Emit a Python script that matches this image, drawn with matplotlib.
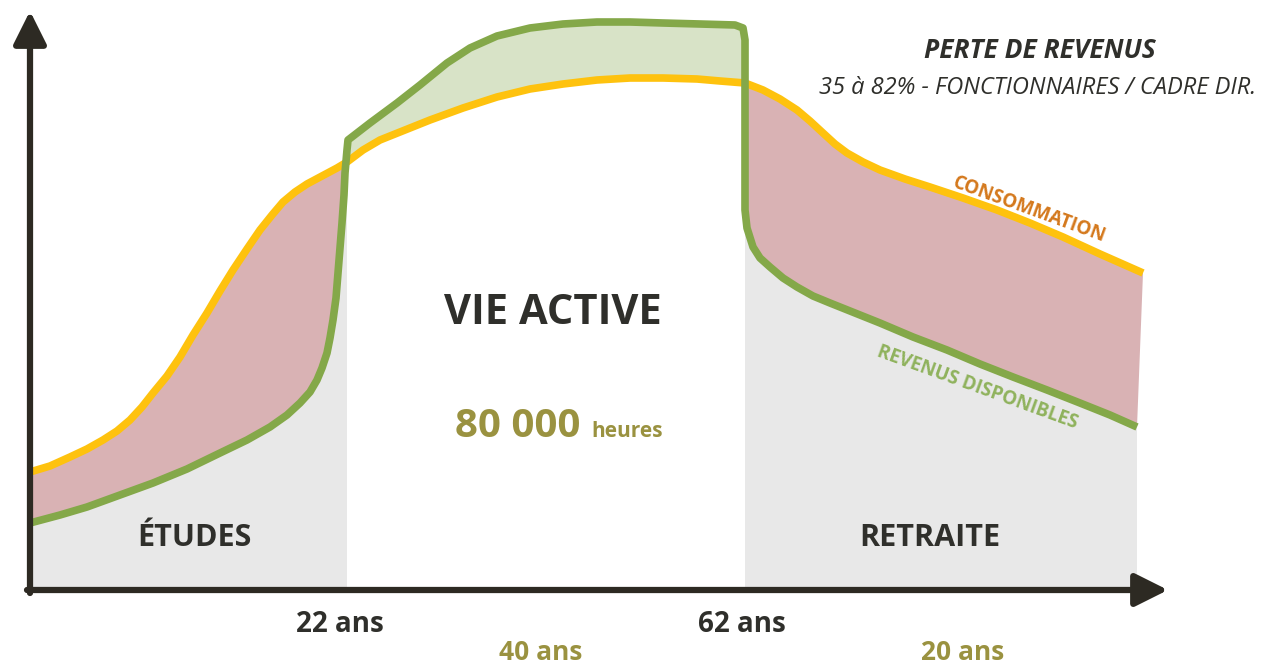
import matplotlib.pyplot as plt
import numpy as np

# ==========================================
# 1. DATA
# ==========================================
# x = position along the life axis, y = level above the time axis
# consommation, split by life phase
yellow_etudes_x = [0, 20, 40, 57, 73, 87, 100, 112, 123, 137, 150, 163, 177, 190, 203, 217,
                   230, 242, 253, 265, 277, 292, 307, 317]
yellow_etudes_y = [118, 124, 133, 141, 150, 159, 170, 183, 197, 214, 233, 255, 277, 299, 320, 341,
                   360, 375, 388, 398, 406, 414, 422, 428]
yellow_active_x = [333, 350, 370, 400, 433, 467, 500, 533, 567, 600, 633, 667, 690]
yellow_active_y = [440, 450, 458, 470, 482, 493, 501, 506, 510, 512, 512, 511, 509]
yellow_retraite_x = [715, 733, 750, 767, 780, 793, 805, 817, 833, 850, 875, 900, 933, 967,
                     1000, 1033, 1070, 1113]
yellow_retraite_y = [507, 500, 491, 480, 469, 457, 446, 437, 428, 420, 411, 403, 392, 380,
                     367, 353, 336, 317]

# revenus disponibles, split by life phase
green_etudes_x = [0, 30, 57, 90, 123, 157, 190, 217, 240, 257, 270, 280, 287, 292, 297, 300,
                  303, 306, 308, 310, 312, 314, 315, 317]
green_etudes_y = [67, 75, 83, 95, 107, 121, 137, 150, 163, 175, 187, 198, 210, 222, 237, 252,
                  270, 292, 317, 342, 367, 395, 417, 440]
green_active_x = [318, 340, 367, 390, 417, 440, 467, 500, 533, 567, 600, 633, 670, 705, 713, 715]
green_active_y = [450, 467, 487, 505, 527, 542, 554, 562, 566, 568, 568, 567, 566, 565, 562, 550]
green_retraite_x = [715, 715, 715, 717, 723, 730, 740, 753, 767, 783, 800, 825, 850, 883, 917,
                    950, 983, 1017, 1050, 1080, 1107]
green_retraite_y = [490, 410, 380, 362, 343, 332, 323, 312, 303, 294, 287, 277, 267, 253, 240,
                    226, 213, 200, 187, 175, 163]

age_labels = ['22 ans', '62 ans']
age_label_x = [310, 712]
span_labels = ['40 ans', '20 ans']
span_label_x = [511, 933]

# ==========================================
# 2. STYLE
# ==========================================
plt.rcParams['font.family'] = ['Open Sans', 'DejaVu Sans']
c_yellow = '#fec20e'
c_green = '#84a849'
c_pink = '#d9b2b4'
c_lightgreen = '#d8e3c7'
c_gray = '#e8e8e8'
c_axis = '#2d2a23'
c_text = '#2f2f2b'
c_olive = '#9a9240'

fig = plt.figure(figsize=(12.71, 6.68), dpi=100)
ax = fig.add_axes([0, 0, 1, 1])
ax.set_xlim(-30, 1241)
ax.set_ylim(-78, 590)
ax.axis('off')

cat = np.concatenate
yx = cat([yellow_etudes_x, yellow_active_x, yellow_retraite_x])
yy = cat([yellow_etudes_y, yellow_active_y, yellow_retraite_y])
gx = cat([green_etudes_x, green_active_x, green_retraite_x])
gy = cat([green_etudes_y, green_active_y, green_retraite_y])

# gray areas under revenue (études, retraite)
ax.fill(cat([green_etudes_x, [green_etudes_x[-1], 0]]),
        cat([green_etudes_y, [0, 0]]), color=c_gray, lw=0, zorder=1)
ax.fill(cat([green_retraite_x, [green_retraite_x[-1], green_retraite_x[0]]]),
        cat([green_retraite_y, [0, 0]]), color=c_gray, lw=0, zorder=1)

# deficit areas (pink)
ax.fill(cat([yellow_etudes_x, green_etudes_x[::-1]]),
        cat([yellow_etudes_y, green_etudes_y[::-1]]), color=c_pink, lw=0, zorder=2)
ax.fill(cat([yellow_retraite_x, green_retraite_x[::-1]]),
        cat([yellow_retraite_y, green_retraite_y[::-1]]), color=c_pink, lw=0, zorder=2)

# surplus area (light green)
ax.fill(cat([green_etudes_x[-1:], green_active_x, yellow_retraite_x[:1],
             yellow_active_x[::-1], yellow_etudes_x[-1:]]),
        cat([green_etudes_y[-1:], green_active_y, yellow_retraite_y[:1],
             yellow_active_y[::-1], yellow_etudes_y[-1:]]),
        color=c_lightgreen, lw=0, zorder=2)

# curves
ax.plot(yx, yy, color=c_yellow, lw=5.5, solid_joinstyle='round', solid_capstyle='butt', zorder=3)
ax.plot(gx, gy, color=c_green, lw=5.5, solid_joinstyle='round', solid_capstyle='butt', zorder=4)

# axes with arrows
arrow_style = '-|>,head_length=1.0,head_width=0.5'
ax.annotate('', xy=(0, 579), xytext=(0, -3),
            arrowprops=dict(arrowstyle=arrow_style, lw=4.5, color=c_axis,
                            mutation_scale=20, shrinkA=0, shrinkB=0), zorder=5)
ax.annotate('', xy=(1138, 0), xytext=(-3, 0),
            arrowprops=dict(arrowstyle=arrow_style, lw=4.5, color=c_axis,
                            mutation_scale=20, shrinkA=0, shrinkB=0), zorder=5)

# ==========================================
# 3. TEXT
# ==========================================
ax.text(1010, 540, 'PERTE DE REVENUS', ha='center', va='center', fontsize=19,
        fontweight='bold', fontstyle='italic', color=c_text)
ax.text(1008, 502, '35 à 82% - FONCTIONNAIRES / CADRE DIR.', ha='center', va='center',
        fontsize=17, fontstyle='italic', color=c_text)
ax.text(999, 380, 'CONSOMMATION', ha='center', va='center', fontsize=13.5,
        fontweight='bold', color='#d4781c', rotation=-20)
ax.text(947, 202, 'REVENUS DISPONIBLES', ha='center', va='center', fontsize=13.5,
        fontweight='bold', color='#8fb25c', rotation=-20)

ax.text(523, 277, 'VIE ACTIVE', ha='center', va='center', fontsize=30,
        fontweight='bold', color=c_text)
ax.text(550, 153, '80 000', ha='right', va='baseline', fontsize=29,
        fontweight='bold', color=c_olive)
ax.text(561, 153, 'heures', ha='left', va='baseline', fontsize=15,
        fontweight='bold', color=c_olive)

ax.text(164, 52, 'ÉTUDES', ha='center', va='center', fontsize=22,
        fontweight='bold', color=c_text)
ax.text(900, 52, 'RETRAITE', ha='center', va='center', fontsize=22,
        fontweight='bold', color=c_text)

for lab, pos in zip(age_labels, age_label_x):
    ax.text(pos, -34, lab, ha='center', va='center', fontsize=20,
            fontweight='bold', color=c_text)
for lab, pos in zip(span_labels, span_label_x):
    ax.text(pos, -63, lab, ha='center', va='center', fontsize=19,
            fontweight='bold', color=c_olive)

fig.savefig('out.png', dpi=100)
